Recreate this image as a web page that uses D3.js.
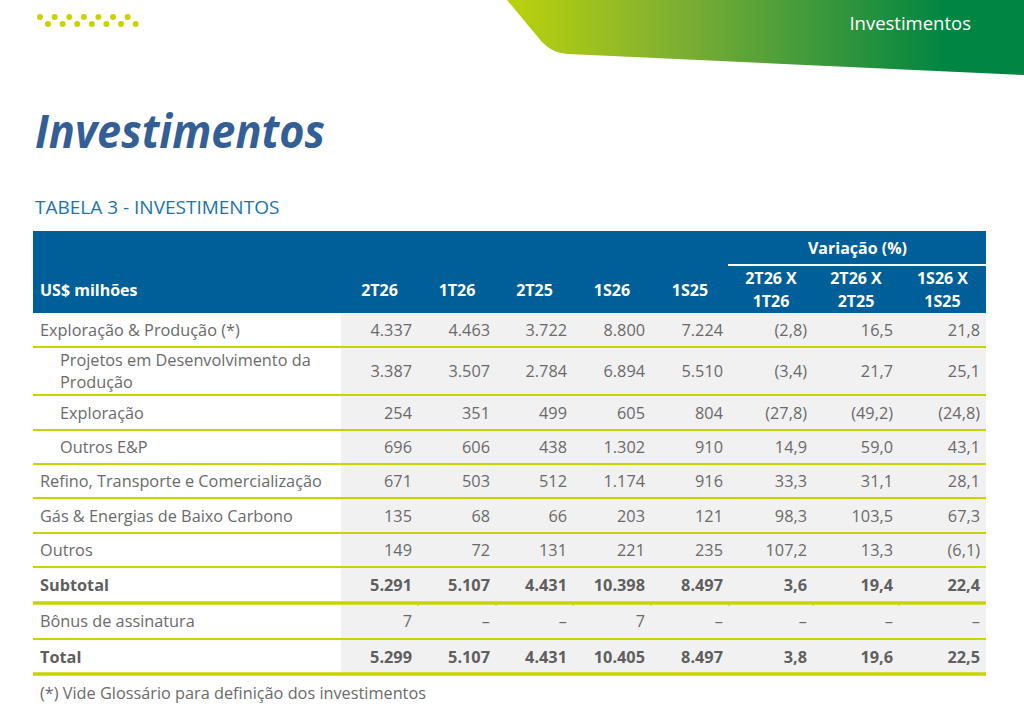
<!DOCTYPE html>
<html>
<head>
<meta charset="utf-8">
<script src="https://cdn.jsdelivr.net/npm/d3@7"></script>
<style>
  body { margin: 0; background: #fff; }
  svg { display: block; font-family: "Open Sans", sans-serif; }
</style>
</head>
<body>
<script>
/* Table data */
var rowLabels = [
  ["Exploração & Produção (*)"],
  ["Projetos em Desenvolvimento da", "Produção"],
  ["Exploração"],
  ["Outros E&P"],
  ["Refino, Transporte e Comercialização"],
  ["Gás & Energias de Baixo Carbono"],
  ["Outros"],
  ["Subtotal"],
  ["Bônus de assinatura"],
  ["Total"]
];
var indented = [false, true, true, true, false, false, false, false, false, false];
var bold = [false, false, false, false, false, false, false, true, false, true];

var periodCols = ["2T26", "1T26", "2T25", "1S26", "1S25"];
var varCols = [["2T26 X", "1T26"], ["2T26 X", "2T25"], ["1S26 X", "1S25"]];

var v2T26 = [4337, 3387, 254, 696, 671, 135, 149, 5291, 7, 5299];
var v1T26 = [4463, 3507, 351, 606, 503, 68, 72, 5107, null, 5107];
var v2T25 = [3722, 2784, 499, 438, 512, 66, 131, 4431, null, 4431];
var v1S26 = [8800, 6894, 605, 1302, 1174, 203, 221, 10398, 7, 10405];
var v1S25 = [7224, 5510, 804, 910, 916, 121, 235, 8497, null, 8497];
var var2T26x1T26 = [-2.8, -3.4, -27.8, 14.9, 33.3, 98.3, 107.2, 3.6, null, 3.8];
var var2T26x2T25 = [16.5, 21.7, -49.2, 59.0, 31.1, 103.5, 13.3, 19.4, null, 19.6];
var var1S26x1S25 = [21.8, 25.1, -24.8, 43.1, 28.1, 67.3, -6.1, 22.4, null, 22.5];

var pageTitle = "Investimentos";
var tableTitle = "TABELA 3 - INVESTIMENTOS";
var unitLabel = "US$ milhões";
var varLabel = "Variação (%)";
var footnote = "(*) Vide Glossário para definição dos investimentos";

/* Layout */
var W = 1024, H = 715;
var tableLeft = 33, tableRight = 986, grayLeft = 341;
var headTop = 231, headBottom = 313;
var colEdges = [341, 418, 496, 573, 651, 729, 813, 899, 986];
var rowHeights = [34, 48, 35, 34, 34, 35, 34, 36, 36, 35];
var lime = "#c8d400", blue = "#005f98", textGray = "#6a6a6a";
var bodySize = "16.3px";

var ptBR = d3.formatLocale({decimal: ",", thousands: ".", grouping: [3], currency: ["US$", ""]});
var fmtInt = ptBR.format(",d"), fmtPct = ptBR.format(",.1f");

var colKeys = ["2T26", "1T26", "2T25", "1S26", "1S25", "v1", "v2", "v3"];
var colData = [v2T26, v1T26, v2T25, v1S26, v1S25, var2T26x1T26, var2T26x2T25, var1S26x1S25];

var xRight = d3.scaleOrdinal().domain(colKeys).range(colEdges.slice(1));
var xLeft = d3.scaleOrdinal().domain(colKeys).range(colEdges.slice(0, -1));
var xMid = function(k) { return (xLeft(k) + xRight(k)) / 2; };

var rowIdx = d3.range(rowLabels.length);
var tops = [], acc = headBottom;
rowHeights.forEach(function(h) { tops.push(acc); acc += h; });
var yTop = d3.scaleOrdinal().domain(rowIdx).range(tops);
var yH = d3.scaleOrdinal().domain(rowIdx).range(rowHeights);

var svg = d3.select("body").append("svg")
    .attr("width", W).attr("height", H);

var defs = svg.append("defs");
var grad = defs.append("linearGradient").attr("id", "band")
    .attr("x1", "0%").attr("x2", "100%").attr("y1", "0").attr("y2", "0");
grad.append("stop").attr("offset", "0%").attr("stop-color", "#bcd20c");
grad.append("stop").attr("offset", "35%").attr("stop-color", "#7aad34");
grad.append("stop").attr("offset", "85%").attr("stop-color", "#008542");
grad.append("stop").attr("offset", "100%").attr("stop-color", "#008542");

/* Top-right green banner */
svg.append("path")
    .attr("d", "M507,0 L1024,0 L1024,75 L568,54 Q552,53 542,42 Z")
    .attr("fill", "url(#band)");
svg.append("text")
    .attr("x", 971).attr("y", 30)
    .attr("text-anchor", "end")
    .attr("fill", "#fff")
    .style("font-size", "18.5px")
    .text("Investimentos");

/* Dotted ornament top-left */
var dots = [];
for (var i = 0; i < 7; i++) {
  dots.push({x: 40 + i * 14.6, y: 17});
  dots.push({x: 48 + i * 14.6, y: 24});
}
svg.selectAll(".dot").data(dots).enter().append("circle")
    .attr("cx", function(d) { return d.x; })
    .attr("cy", function(d) { return d.y; })
    .attr("r", 3)
    .attr("fill", lime);

/* Titles */
svg.append("text")
    .attr("x", 35).attr("y", 148)
    .attr("fill", "#335f96")
    .attr("textLength", 290).attr("lengthAdjust", "spacingAndGlyphs")
    .style("font-size", "46px").style("font-weight", "700").style("font-style", "italic")
    .text(pageTitle);

svg.append("text")
    .attr("x", 35).attr("y", 214)
    .attr("fill", "#1b73ad")
    .style("font-size", "19px")
    .text(tableTitle);

/* Header */
svg.append("rect")
    .attr("x", tableLeft).attr("y", headTop)
    .attr("width", tableRight - tableLeft).attr("height", headBottom - headTop)
    .attr("fill", blue);

var head = svg.append("g").attr("fill", "#fff")
    .style("font-size", "16px").style("font-weight", "700");

head.append("text").attr("x", 40).attr("y", 296).text(unitLabel);

head.selectAll(".ph").data(periodCols).enter().append("text")
    .attr("x", function(d, i) { return xMid(colKeys[i]); })
    .attr("y", 296)
    .attr("text-anchor", "middle")
    .text(function(d) { return d; });

head.append("text")
    .attr("x", (xLeft("v1") + tableRight) / 2).attr("y", 254)
    .attr("text-anchor", "middle")
    .text(varLabel);

svg.append("line")
    .attr("x1", xLeft("v1") - 1).attr("x2", tableRight)
    .attr("y1", 265).attr("y2", 265)
    .attr("stroke", "#fff").attr("stroke-width", 2);

var vh = head.selectAll(".vh").data(varCols).enter().append("text")
    .attr("text-anchor", "middle");
vh.append("tspan")
    .attr("x", function(d, i) { return xMid(colKeys[5 + i]); })
    .attr("y", 284)
    .text(function(d) { return d[0]; });
vh.append("tspan")
    .attr("x", function(d, i) { return xMid(colKeys[5 + i]); })
    .attr("y", 307)
    .text(function(d) { return d[1]; });

/* Gray data area */
svg.append("rect")
    .attr("x", grayLeft).attr("y", headBottom)
    .attr("width", tableRight - grayLeft)
    .attr("height", acc - headBottom)
    .attr("fill", "#f1f1f1");

/* Rows */
var rows = svg.selectAll(".row").data(rowIdx).enter().append("g")
    .attr("class", "row")
    .attr("transform", function(r) { return "translate(0," + yTop(r) + ")"; })
    .attr("fill", function(r) { return bold[r] ? "#5f5f5f" : textGray; })
    .style("font-size", bodySize)
    .style("font-weight", function(r) { return bold[r] ? "700" : "400"; });

rows.each(function(r) {
  var g = d3.select(this);
  var h = yH(r);
  var lines = rowLabels[r];
  var lx = indented[r] ? 60 : 40;
  var t = g.append("text");
  lines.forEach(function(s, j) {
    t.append("tspan")
        .attr("x", lx)
        .attr("y", h / 2 + 6 + (j - (lines.length - 1) / 2) * 22)
        .text(s);
  });
  colKeys.forEach(function(k, c) {
    var v = colData[c][r];
    var s;
    if (v === null) s = "–";
    else if (c < 5) s = fmtInt(v);
    else s = v < 0 ? "(" + fmtPct(-v) + ")" : fmtPct(v);
    g.append("text")
        .attr("x", xRight(k) - 6)
        .attr("y", h / 2 + 6)
        .attr("text-anchor", "end")
        .text(s);
  });
});

/* Row separators */
svg.selectAll(".sep").data(rowIdx).enter().append("line")
    .attr("x1", tableLeft).attr("x2", tableRight)
    .attr("y1", function(r) { return yTop(r) + yH(r); })
    .attr("y2", function(r) { return yTop(r) + yH(r); })
    .attr("stroke", lime)
    .attr("stroke-width", function(r) { return bold[r] ? 3.5 : 2; });

/* Small notches below subtotal line */
var subIdx = 7;
svg.selectAll(".notch").data(colEdges.slice(1, -1)).enter().append("line")
    .attr("x1", function(d) { return d; }).attr("x2", function(d) { return d; })
    .attr("y1", yTop(subIdx) + yH(subIdx)).attr("y2", yTop(subIdx) + yH(subIdx) + 3)
    .attr("stroke", lime).attr("stroke-width", 1.2);

/* Footnote */
svg.append("text")
    .attr("x", 40).attr("y", 699)
    .attr("fill", textGray)
    .style("font-size", bodySize)
    .text(footnote);
</script>
</body>
</html>
